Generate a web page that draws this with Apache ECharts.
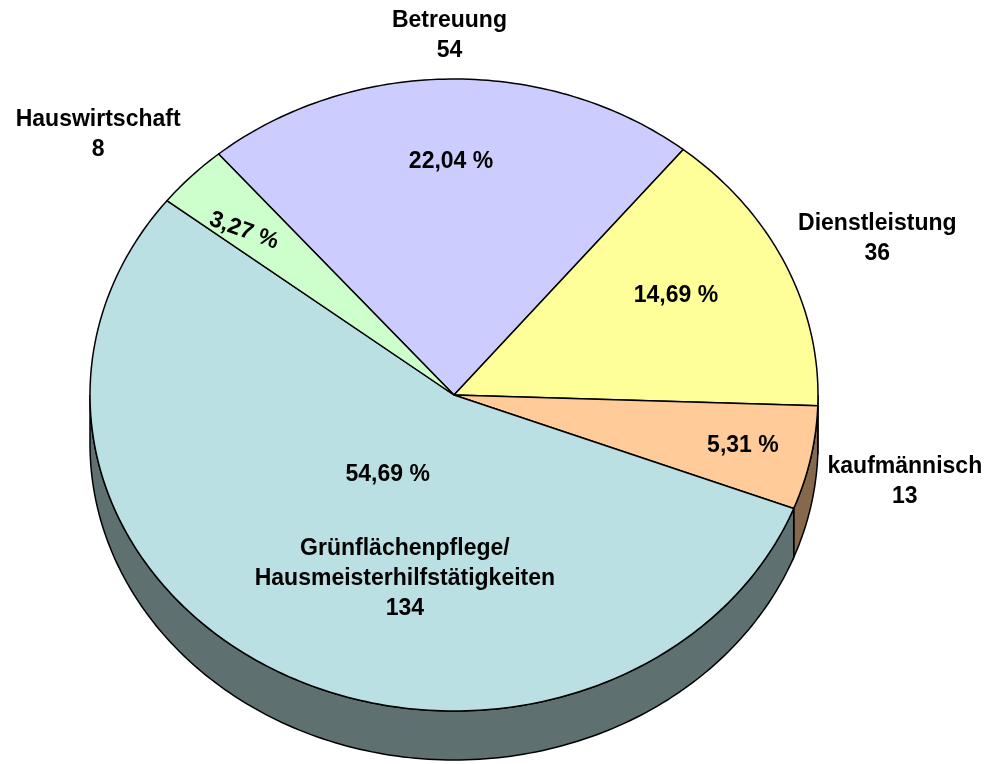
<!DOCTYPE html>
<html lang="de">
<head>
<meta charset="utf-8">
<title>Verteilung nach Tätigkeitsbereich</title>
<style>
  html, body { margin: 0; padding: 0; background: #fff; }
  #chart { width: 989px; height: 764px; }
</style>
</head>
<body>
<div id="chart"></div>
<script src="https://cdn.jsdelivr.net/npm/echarts@6/dist/echarts.min.js"></script>
<script>
// data
const categories = ['Betreuung', 'Dienstleistung', 'kaufmännisch', 'Grünflächenpflege/\nHausmeisterhilfstätigkeiten', 'Hauswirtschaft'];
const values = [54, 36, 13, 134, 8];

// styling
const topColors = ['#CCCCFF', '#FFFF99', '#FFCC99', '#BBE0E3', '#CCFFCC'];
const sideColors = ['#66667F', '#80804C', '#86684C', '#5F7070', '#668066'];
// label anchors, as multiples of the ellipse radii along each slice's mid angle
const pctPos = [[0.74, 0.74], [0.67, 0.76], [0.81, 0.80], [0.37, 0.29], [0.80, 0.75]];
const namePos = [[1.14, 1.136], [1.278, 1.196], [1.264, 1.38], [0.274, 0.669], [1.355, 1.19]];
const pctRotate = [0, 0, 0, 0, -20];

const total = values.reduce((a, b) => a + b, 0);
const cx = 454, cy = 395, rx = 364, ry = 316, depth = 49, startDeg = -40.3;
const font = 'bold 23px "Liberation Sans", Arial, sans-serif';

// angle in degrees, clockwise from 12 o'clock
function pt(deg, dy) {
    const r = deg * Math.PI / 180;
    return [cx + rx * Math.sin(r), cy - ry * Math.cos(r) + (dy || 0)];
}
function arc(a1, a2, dy) {
    const pts = [];
    const n = Math.max(2, Math.ceil(a2 - a1));
    for (let i = 0; i <= n; i++) pts.push(pt(a1 + (a2 - a1) * i / n, dy));
    return pts;
}

const starts = [];
let acc = startDeg;
values.forEach(v => { starts.push(acc); acc += v / total * 360; });

function renderItem(params, api) {
    const i = params.dataIndex;
    const v = api.value(0);
    const a1 = starts[i], a2 = a1 + v / total * 360;
    const mid = (a1 + a2) / 2 * Math.PI / 180;
    const children = [];

    // visible front wall between 90° and 270°
    const s1 = Math.max(a1, 90), s2 = Math.min(a2, 270);
    if (s2 > s1) {
        const top = arc(s1, s2, 0);
        const bot = arc(s1, s2, depth).reverse();
        children.push({
            type: 'polygon',
            shape: { points: top.concat(bot) },
            style: { fill: sideColors[i], stroke: '#000', lineWidth: 1.5 }
        });
    }
    children.push({
        type: 'polygon',
        shape: { points: [[cx, cy]].concat(arc(a1, a2, 0)) },
        style: { fill: topColors[i], stroke: '#000', lineWidth: 1.5, lineJoin: 'round' }
    });

    const pct = (v / total * 100).toFixed(2).replace('.', ',') + ' %';
    children.push({
        type: 'text',
        x: cx + rx * pctPos[i][0] * Math.sin(mid),
        y: cy - ry * pctPos[i][1] * Math.cos(mid),
        rotation: pctRotate[i] * Math.PI / 180,
        z2: 100,
        style: { text: pct, fill: '#000', font: font, align: 'center', verticalAlign: 'middle' }
    });
    children.push({
        type: 'text',
        x: cx + rx * namePos[i][0] * Math.sin(mid),
        y: cy - ry * namePos[i][1] * Math.cos(mid),
        z2: 100,
        style: {
            text: categories[i] + '\n' + v,
            fill: '#000', font: font, align: 'center', verticalAlign: 'middle', lineHeight: 30
        }
    });
    return { type: 'group', children: children };
}

const myChart = echarts.init(document.getElementById('chart'));
const option = {
    animation: false,
    backgroundColor: '#fff',
    series: [{
        type: 'custom',
        coordinateSystem: 'none',
        silent: true,
        renderItem: renderItem,
        data: values.map((v, i) => ({ value: v, name: categories[i] }))
    }]
};
myChart.setOption(option);
</script>
</body>
</html>
